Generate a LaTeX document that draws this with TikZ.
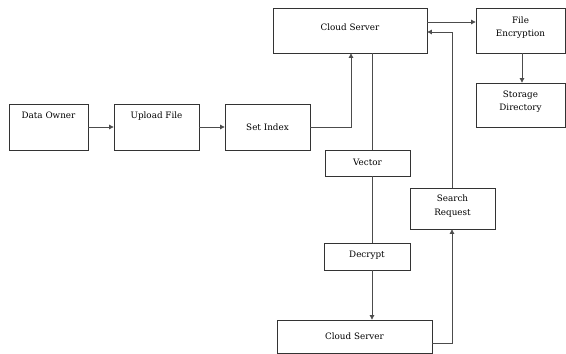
\documentclass[tikz,border=0pt]{standalone}
\usepackage{fontspec}
\setmainfont{DejaVu Serif}
\usetikzlibrary{arrows.meta}
\tikzset{
  box/.style={draw=black!80, line width=0.8pt, rectangle, inner sep=0pt},
  lbl/.style={inner sep=0pt, align=center, font=\fontsize{8.8}{13.5}\selectfont},
  ln/.style={draw=black!70, line width=0.7pt},
  arr/.style={ln, -{Triangle[length=4.5pt,width=4.5pt]}},
  toplbl/.style={lbl, anchor=north, yshift=-8pt}
}
\begin{document}
\begin{tikzpicture}[x=1pt,y=-1pt]
\useasboundingbox (0,0) rectangle (566,354);
\node[box, minimum width=79pt, minimum height=46pt, label={[toplbl]north:Data Owner}] (owner) at (48.5,127) {};
\node[box, minimum width=85pt, minimum height=46pt, label={[toplbl]north:Upload File}] (upload) at (156.5,127) {};
\node[box, minimum width=85pt, minimum height=46pt, label={[lbl,anchor=center]center:Set Index}] (index) at (267.5,127) {};
\node[box, minimum width=154pt, minimum height=45pt, label={[lbl,anchor=center,yshift=3pt]center:Cloud Server}] (cs1) at (350,30.5) {};
\node[box, minimum width=89pt, minimum height=45pt, label={[lbl,anchor=center,yshift=3pt]center:File\\Encryption}] (enc) at (520.5,30.5) {};
\node[box, minimum width=89pt, minimum height=44pt, label={[lbl,anchor=center,yshift=3.5pt]center:Storage\\Directory}] (store) at (520.5,105) {};
\node[box, minimum width=85pt, minimum height=26pt, label={[lbl,anchor=center,yshift=1pt]center:Vector}] (vector) at (367.5,163) {};
\node[box, minimum width=86pt, minimum height=27pt, label={[lbl,anchor=center,yshift=1.5pt]center:Decrypt}] (decrypt) at (367,256.5) {};
\node[box, minimum width=85pt, minimum height=41pt, label={[lbl,anchor=center,yshift=2.5pt]center:Search\\Request}] (search) at (452.5,208.5) {};
\node[box, minimum width=155pt, minimum height=33pt, label={[lbl,anchor=center]center:Cloud Server}] (cs2) at (354.5,336.5) {};
\coordinate (xa) at (351,0);
\coordinate (xb) at (372,0);
\coordinate (xc) at (452,0);
\coordinate (xd) at (522,0);
\coordinate (ya) at (0,22);
\coordinate (yb) at (0,32);
\coordinate (yc) at (0,343);
\draw[arr] (owner.east) -- (upload.west);
\draw[arr] (upload.east) -- (index.west);
\draw[arr] (index.east) -| (xa |- cs1.south);
\draw[arr] (cs1.east |- ya) -- (enc.west |- ya);
\draw[arr] (xd |- enc.south) -- (xd |- store.north);
\draw[ln] (xb |- cs1.south) -- (xb |- vector.north);
\draw[ln] (xb |- vector.south) -- (xb |- decrypt.north);
\draw[arr] (xb |- decrypt.south) -- (xb |- cs2.north);
\draw[arr] (cs2.east |- yc) -| (xc |- search.south);
\draw[arr] (xc |- search.north) |- (cs1.east |- yb);
\end{tikzpicture}
\end{document}
